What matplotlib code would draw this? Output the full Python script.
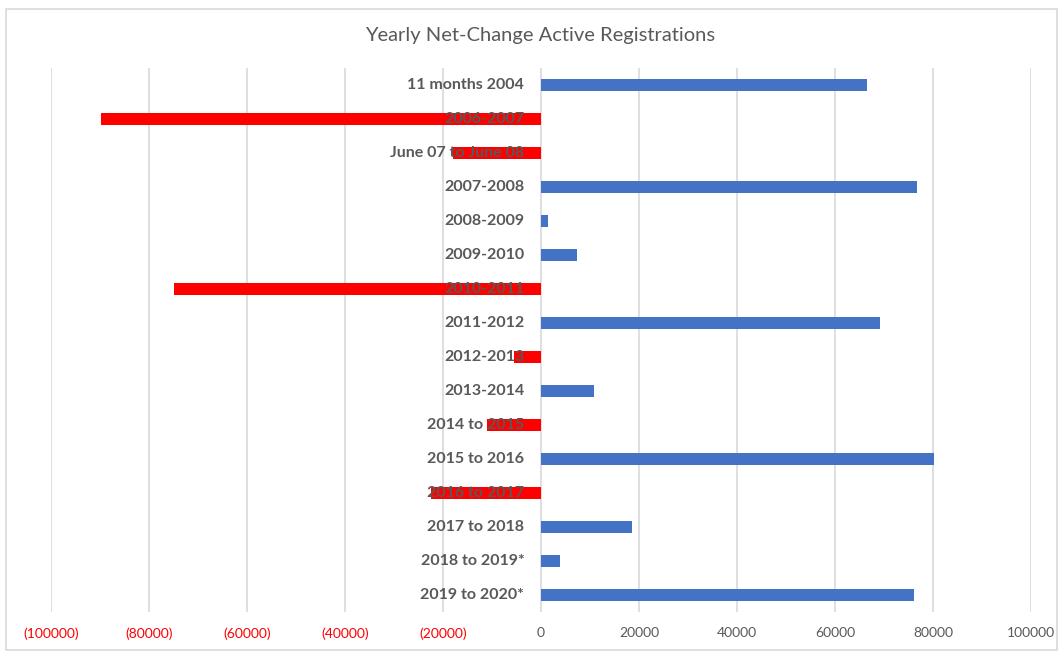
import matplotlib.pyplot as plt
from matplotlib.patches import Rectangle

categories = ["11 months 2004", "2006-2007", "June 07 to June 08", "2007-2008",
              "2008-2009", "2009-2010", "2010-2011", "2011-2012", "2012-2013",
              "2013-2014", "2014 to 2015", "2015 to 2016", "2016 to 2017",
              "2017 to 2018", "2018 to 2019*", "2019 to 2020*"]
values = [66500, -89700, -18000, 76700, 1400, 7300, -74800, 69200, -5500,
          10800, -11000, 80300, -22400, 18600, 3900, 76200]
x_ticks = [-100000, -80000, -60000, -40000, -20000, 0, 20000, 40000, 60000, 80000, 100000]


def main():
    plt.rcParams['font.family'] = ['Lato', 'DejaVu Sans']
    fig = plt.figure(figsize=(10.63, 6.52), dpi=100)
    ax = fig.add_axes([51 / 1063, 1 - 612 / 652, 980 / 1063, 544 / 652])

    # chart border
    fig.patches.append(Rectangle((6 / 1063, 2 / 652), 1051 / 1063, 641 / 652,
                                 transform=fig.transFigure, fill=False,
                                 edgecolor='#d9d9d9', linewidth=1.2))

    grey = '#595959'
    ypos = range(len(categories))
    colors = ['#4472C4' if v >= 0 else '#FF0000' for v in values]
    ax.barh(ypos, values, height=0.38, color=colors, zorder=2)

    for y, name in zip(ypos, categories):
        ax.annotate(name, xy=(0, y), xytext=(-12, 0), textcoords='offset points',
                    ha='right', va='center', fontsize=11.5, fontweight='bold',
                    color=grey, zorder=3)

    ax.set_xlim(-100000, 100000)
    ax.set_ylim(len(categories) - 0.5, -0.5)
    ax.set_xticks(x_ticks)
    ax.set_xticklabels(["(%d)" % -t if t < 0 else str(t) for t in x_ticks])
    for lbl, t in zip(ax.get_xticklabels(), x_ticks):
        lbl.set_color('#FF0000' if t < 0 else grey)
        lbl.set_fontsize(10)
    ax.tick_params(axis='x', length=0, pad=11)
    ax.set_yticks([])
    ax.grid(axis='x', color='#d9d9d9', linewidth=1.2, zorder=0)
    for s in ax.spines.values():
        s.set_visible(False)

    fig.text(540 / 1063, 1 - 35 / 652, "Yearly Net-Change Active Registrations",
             ha='center', va='center', fontsize=14.5, color=grey)

    fig.savefig("out.png", dpi=100)


if __name__ == "__main__":
    main()
